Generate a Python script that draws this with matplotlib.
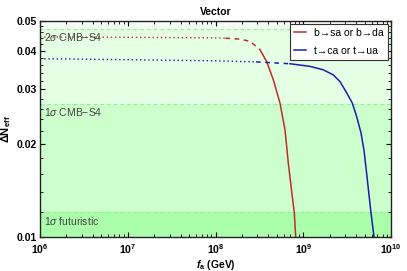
import numpy as np
import matplotlib.pyplot as plt
from matplotlib.ticker import FixedLocator, NullFormatter

plt.rcParams['font.family'] = ['Liberation Sans', 'DejaVu Sans']
plt.rcParams['mathtext.fontset'] = 'custom'
plt.rcParams['mathtext.rm'] = 'Liberation Sans'
plt.rcParams['mathtext.it'] = 'Liberation Sans:italic'
plt.rcParams['mathtext.bf'] = 'Liberation Sans:bold'
plt.rcParams['mathtext.bfit'] = 'Liberation Sans:bold:italic'

# band limits on Delta N_eff
bands = [0.047, 0.027, 0.012]
band_labels = [r"2$\sigma$ CMB$-$S4", r"1$\sigma$ CMB$-$S4", r"1$\sigma$ futuristic"]

# b -> s a  or  b -> d a  (red)
fa_b = [1e6, 1e7, 1e8, 1.3e8, 1.9e8, 2.47e8, 3.21e8, 3.83e8, 4.56e8, 5.43e8, 6.19e8,
        6.76e8, 7.5e8, 7.9e8, 8.2e8]
dn_b = [0.0443, 0.0442, 0.0440, 0.0439, 0.0436, 0.0429, 0.0403, 0.0369, 0.0322, 0.0271, 0.0222,
        0.0173, 0.0135, 0.0120, 0.0100]

# t -> c a  or  t -> u a  (blue)
fa_t = [1e6, 1e7, 1e8, 2.9e8, 7.06e8, 1.19e9, 1.69e9, 2.2e9, 2.62e9, 3.13e9, 3.62e9, 4.06e9,
        4.55e9, 4.92e9, 5.27e9, 5.91e9, 6.4e9]
dn_t = [0.0377, 0.0374, 0.0371, 0.0368, 0.0363, 0.0356, 0.0347, 0.0334, 0.0318, 0.0292, 0.0271,
        0.0245, 0.0217, 0.0191, 0.0161, 0.0120, 0.0100]

red = "#c02a2a"
blue = "#1c1cb0"

fig = plt.figure(figsize=(4.07, 2.71), dpi=100)
ax = fig.add_axes([0.0983, 0.1255, 0.8624, 0.7981])
ax.set_xscale("log")
ax.set_yscale("log")
ax.set_xlim(1e6, 1e10)
ax.set_ylim(0.01, 0.05)

# shaded sensitivity bands
ax.axhspan(bands[0], 0.05, color="#f6fff6", zorder=0, lw=0)
ax.axhspan(bands[1], bands[0], color="#e4ffe4", zorder=0, lw=0)
ax.axhspan(bands[2], bands[1], color="#ccffcc", zorder=0, lw=0)
ax.axhspan(0.01, bands[2], color="#abffab", zorder=0, lw=0)
for b, lab in zip(bands, band_labels):
    ax.axhline(b, color="#8ef08e", ls=(0, (3, 3)), lw=0.8, zorder=1)
    ax.text(1.12e6, b * 0.985, lab, fontsize=7.5, color="#444444", ha="left", va="top")

# curves: dotted / dashed / solid pieces
fa_b = np.array(fa_b); dn_b = np.array(dn_b)
fa_t = np.array(fa_t); dn_t = np.array(dn_t)

m = fa_b <= 1.3e8
ax.plot(fa_b[m], dn_b[m], color=red, ls=(0, (1, 2)), lw=1.0)
m = (fa_b >= 1.3e8) & (fa_b <= 3.21e8)
ax.plot(fa_b[m], dn_b[m], color=red, ls=(0, (3, 3)), lw=1.1)
m = fa_b >= 3.21e8
ax.plot(fa_b[m], dn_b[m], color=red, lw=1.1, label="b→sa or b→da")

m = fa_t <= 2.9e8
ax.plot(fa_t[m], dn_t[m], color=blue, ls=(0, (1, 2)), lw=1.0)
m = (fa_t >= 2.9e8) & (fa_t <= 7.06e8)
ax.plot(fa_t[m], dn_t[m], color=blue, ls=(0, (3, 3)), lw=1.1)
m = fa_t >= 7.06e8
ax.plot(fa_t[m], dn_t[m], color=blue, lw=1.1, label="t→ca or t→ua")

# ticks
xt = [1e6, 1e7, 1e8, 1e9, 1e10]
ax.xaxis.set_major_locator(FixedLocator(xt))
ax.set_xticklabels([r"$\mathbf{10^{%d}}$" % k for k in range(6, 11)])
ax.xaxis.set_minor_locator(FixedLocator([m_ * 10.0**k for k in range(6, 10) for m_ in range(2, 10)]))
ax.xaxis.set_minor_formatter(NullFormatter())
yt = [0.01, 0.02, 0.03, 0.04, 0.05]
ax.yaxis.set_major_locator(FixedLocator(yt))
ax.set_yticklabels(["0.01", "0.02", "0.03", "0.04", "0.05"], fontweight="bold")
ax.yaxis.set_minor_locator(FixedLocator([0.012, 0.014, 0.016, 0.018, 0.022, 0.024, 0.026, 0.028,
                                         0.032, 0.034, 0.036, 0.038, 0.042, 0.044, 0.046, 0.048]))
ax.yaxis.set_minor_formatter(NullFormatter())
ax.tick_params(which="both", direction="in", top=True, right=True, labelsize=7.5)
ax.tick_params(axis="x", pad=4)
ax.tick_params(axis="y", pad=2)
ax.tick_params(which="major", length=3.5, width=0.8)
ax.tick_params(which="minor", length=2, width=0.6)
for s in ax.spines.values():
    s.set_linewidth(1.0)
    s.set_color("#222222")

ax.set_title("Vector", fontsize=7.5, fontweight="bold", pad=4)
ax.set_xlabel(r"$\mathbfit{f}_\mathbf{a}$ (GeV)", fontsize=7.5, fontweight="bold", labelpad=1)
ax.set_ylabel(r"$\mathbf{\Delta N_{eff}}$", fontsize=8, labelpad=3)

leg = ax.legend(loc="upper right", fontsize=7.5, frameon=True, fancybox=False,
                handlelength=1.1, borderpad=0.4, labelspacing=0.75, borderaxespad=0.3)
leg.get_frame().set_edgecolor("#333333")
leg.get_frame().set_linewidth(0.8)
leg.get_frame().set_alpha(1.0)

fig.savefig("out.png", dpi=100)
